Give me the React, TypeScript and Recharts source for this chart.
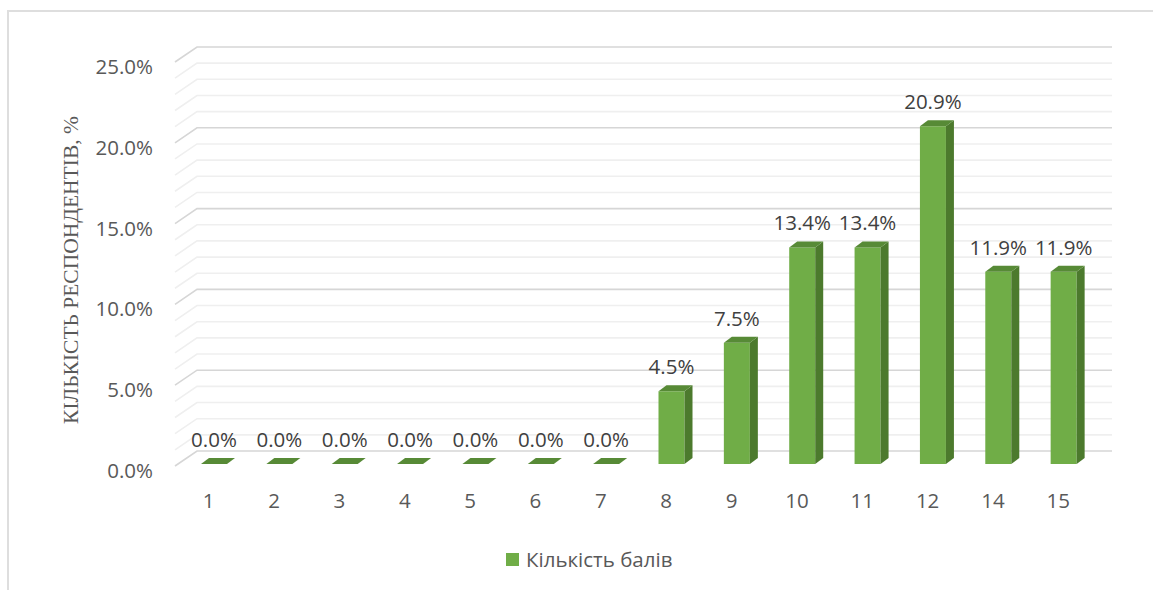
import React from 'react';
import { BarChart, Bar, XAxis, YAxis, CartesianGrid, LabelList, Legend } from 'recharts';

const categories = ['1', '2', '3', '4', '5', '6', '7', '8', '9', '10', '11', '12', '14', '15'];
const shares = [0, 0, 0, 0, 0, 0, 0, 0.045, 0.075, 0.134, 0.134, 0.209, 0.119, 0.119];
const yTicks = [0, 0.01, 0.02, 0.03, 0.04, 0.05, 0.06, 0.07, 0.08, 0.09, 0.1, 0.11, 0.12, 0.13, 0.14, 0.15, 0.16, 0.17, 0.18, 0.19, 0.2, 0.21, 0.22, 0.23, 0.24, 0.25];
const seriesName = 'Кількість балів';
const yTitle = 'КІЛЬКІСТЬ РЕСПОНДЕНТІВ, %';

const data = categories.map((c, i) => ({ score: c, value: shares[i] }));

const FONT = '"Open Sans", sans-serif';
const DEPTH_X = 22;
const DEPTH_Y = 15;
const BAR_DX = 8;
const BAR_DY = 6;
const BAR_SHIFT = 6;

const pct = (v: number) => (v * 100).toFixed(1) + '%';

const GridLine = (props: any) => {
  const { x1, y1, x2, index } = props;
  const major = index % 5 === 0;
  return (
    <polyline
      key={'g' + index}
      points={`${x1},${y1} ${x1 + DEPTH_X},${y1 - DEPTH_Y} ${x2 + DEPTH_X},${y1 - DEPTH_Y}`}
      fill="none"
      stroke={major ? '#d6d6d6' : '#efefef'}
      strokeWidth={1.6}
    />
  );
};

const Bar3D = (props: any) => {
  const { x, y, width, height } = props;
  const x0 = x + BAR_SHIFT;
  const yy = y - 2;
  const h = Math.max(0, height);
  const w = width;
  return (
    <g>
      {h > 0 && <rect x={x0} y={yy} width={w} height={h} fill="#70ad47" />}
      {h > 0 && (
        <polygon
          points={`${x0 + w},${yy} ${x0 + w + BAR_DX},${yy - BAR_DY} ${x0 + w + BAR_DX},${yy + h - BAR_DY} ${x0 + w},${yy + h}`}
          fill="#4c7a2d"
        />
      )}
      <polygon
        points={`${x0},${yy} ${x0 + BAR_DX},${yy - BAR_DY} ${x0 + w + BAR_DX},${yy - BAR_DY} ${x0 + w},${yy}`}
        fill="#578a36"
      />
    </g>
  );
};

const YTick = (props: any) => {
  const { y, payload } = props;
  const v = Math.round(payload.value * 100);
  if (v % 5 !== 0) return null;
  return (
    <text x={153} y={y + 4} textAnchor="end" dominantBaseline="central" fontFamily={FONT} fontSize={20.5} fill="#595959">
      {pct(payload.value)}
    </text>
  );
};

const XTick = (props: any) => {
  const { x, y, payload } = props;
  return (
    <text x={x + 1} y={y + 34} textAnchor="middle" dominantBaseline="central" fontFamily={FONT} fontSize={20.5} fill="#595959">
      {payload.value}
    </text>
  );
};

const ValueLabel = (props: any) => {
  const { x, y, width, value } = props;
  return (
    <text x={x + BAR_SHIFT + width / 2} y={y - 27} textAnchor="middle" dominantBaseline="central" fontFamily={FONT} fontSize={20.5} fill="#404040">
      {pct(value)}
    </text>
  );
};

const YTitle = () => (
  <text x={71} y={270} transform="rotate(-90 71 270)" textAnchor="middle" dominantBaseline="central" fontFamily='"Liberation Serif", "Times New Roman", serif' fontSize={21.5} fill="#595959">
    {yTitle}
  </text>
);

const LegendContent = () => (
  <div style={{ display: 'flex', alignItems: 'center', fontFamily: FONT, fontSize: 20.5, color: '#595959' }}>
    <span style={{ display: 'inline-block', width: 13, height: 13, background: '#70ad47', marginRight: 7 }} />
    <span>{seriesName}</span>
  </div>
);

export default function App() {
  return (
    <div style={{ position: 'absolute', left: 0, top: 0, width: 1153, height: 590, background: '#fff' }}>
      <div style={{ position: 'absolute', left: 7, top: 10, width: 1146, height: 580, borderTop: '2px solid #dedede', borderLeft: '2px solid #dedede', boxSizing: 'border-box' }} />
      <div style={{ position: 'absolute', left: 0, top: 0 }}>
        <BarChart width={1153} height={590} data={data} margin={{ top: 62, right: 63, bottom: 0, left: 0 }} barSize={26}>
          <CartesianGrid vertical={false} horizontal={GridLine} />
          <XAxis dataKey="score" axisLine={false} tickLine={false} tickSize={0} tickMargin={0} height={124} tick={<XTick />} interval={0} />
          <YAxis
            domain={[0, 0.25]}
            ticks={yTicks}
            width={175}
            axisLine={false}
            tickLine={false}
            tickSize={0}
            tick={<YTick />}
            interval={0}
            label={<YTitle />}
          />
          <Legend
            layout="horizontal"
            verticalAlign="middle"
            align="center"
            content={<LegendContent />}
            wrapperStyle={{ position: 'absolute', top: 545, left: 506, width: 'auto' }}
          />
          <Bar dataKey="value" name={seriesName} shape={<Bar3D />} isAnimationActive={false}>
            <LabelList dataKey="value" content={<ValueLabel />} />
          </Bar>
        </BarChart>
      </div>
    </div>
  );
}
